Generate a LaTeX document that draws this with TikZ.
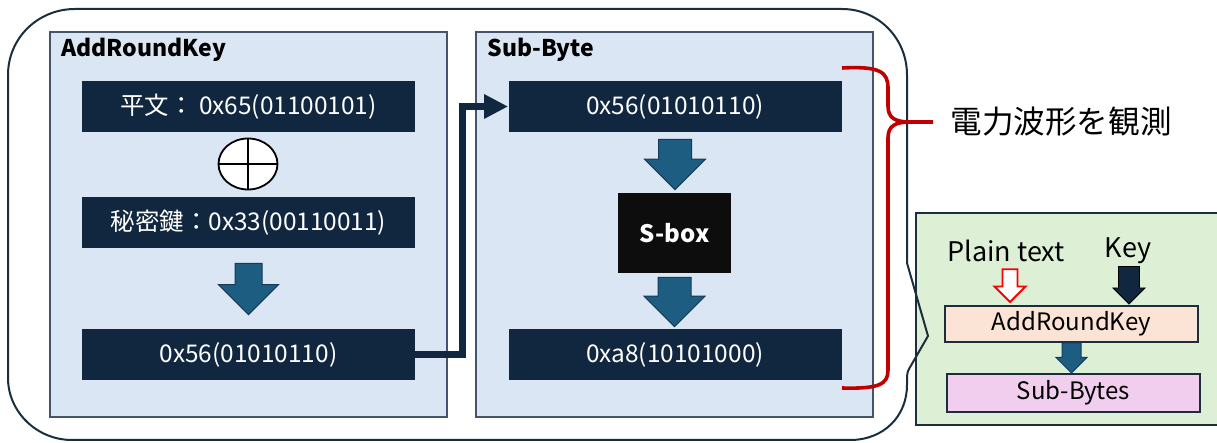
\documentclass[tikz,border=0pt]{standalone}
\usepackage{fontspec}
\setmainfont{Noto Sans CJK JP}
\usepackage{tikz}
\usetikzlibrary{arrows.meta, positioning, calc, shapes.geometric}

\definecolor{panelblue}{HTML}{DAE6F3}
\definecolor{panelline}{HTML}{44546A}
\definecolor{navybox}{HTML}{10273F}
\definecolor{arrowblue}{HTML}{1D5D82}
\definecolor{arrowline}{HTML}{173A55}
\definecolor{rimline}{HTML}{1A2E3E}
\definecolor{bracered}{HTML}{C00000}
\definecolor{notegreen}{HTML}{DDF0D5}
\definecolor{notepeach}{HTML}{FBE4D6}
\definecolor{notepink}{HTML}{F2CEEE}

% fat block arrow pointing down: style, top point, tip point, half shaft, half head
\newcommand{\blockdown}[5]{%
  \filldraw[#1] let \p1=#2, \p2=#3 in
    (\x1-#4,\y1) -- (\x1+#4,\y1) -- (\x1+#4,\y2+#5) -- (\x1+#5,\y2+#5)
    -- (\x1,\y2) -- (\x1-#5,\y2+#5) -- (\x1-#4,\y2+#5) -- cycle;}

\tikzset{
  panel/.style={draw=panelline, fill=panelblue, line width=0.8pt,
                minimum width=198.5pt, minimum height=192.5pt, inner sep=0pt},
  paneltitle/.style={font=\bfseries\fontsize{11.5}{13}\selectfont, inner sep=0pt, anchor=base west},
  valbox/.style={fill=navybox, text=white, minimum width=166.5pt, minimum height=25.5pt,
                 inner sep=0pt, font=\fontsize{12.2}{14}\selectfont},
  sboxnode/.style={fill=black!95, text=white, minimum width=56.5pt, minimum height=40pt,
                   inner sep=0pt, font=\bfseries\fontsize{12}{14}\selectfont},
  xornode/.style={ellipse, draw=black, fill=white, line width=0.9pt,
                  minimum width=29.5pt, minimum height=25.5pt, inner sep=0pt},
  fatarrow/.style={fill=arrowblue, draw=arrowline, line width=0.5pt},
  keyarrow/.style={fill=navybox},
  plainarrow/.style={fill=white, draw=red, line width=0.9pt},
  link/.style={draw=navybox, line width=3.5pt, -{Triangle[length=12pt, width=11.5pt]}},
  rim/.style={draw=rimline, line width=1pt},
  brace/.style={draw=bracered, line width=1.8pt, line join=round},
  obslabel/.style={font=\fontsize{15.8}{17}\selectfont, inner sep=0pt},
  notetext/.style={font=\fontsize{13.5}{15}\selectfont, inner sep=0pt},
  notebox/.style={draw=rimline, line width=1pt, minimum width=126.5pt, minimum height=18pt,
                  inner sep=0pt, font=\fontsize{12}{14}\selectfont}
}

\begin{document}
\begin{tikzpicture}[x=0.5pt, y=-0.5pt]
  \useasboundingbox (0,0) rectangle (1217,443);

  % legend box on the right
  \fill[notegreen] (916,213) rectangle (1217,425);
  \draw[rim] (1217,213) -- (916,213) -- (916,425) -- (1217,425);

  % outer frame with the pointer to the legend
  \draw[rim] (8,75) .. controls (8,38) and (38,9) .. (75,9) -- (842,9)
    .. controls (878,9) and (907,38) .. (907,75) -- (907,263) -- (928,336) -- (909,369)
    .. controls (907,372) and (907,376) .. (907,385)
    .. controls (907,416) and (884,440) .. (850,440) -- (72,440)
    .. controls (37,440) and (8,412) .. (8,378) -- cycle;

  % AddRoundKey
  \node[panel] (arkpanel) at (248.5,224.5) {};
  \node[paneltitle] at (61,57) {AddRoundKey};
  \node[valbox] (k1) at (248.5,106.5) {平文： 0x65(01100101)};
  \node[xornode] (xor) at (248,164) {};
  \draw[line width=0.9pt] (xor.north) -- (xor.south) (xor.west) -- (xor.east);
  \node[valbox] (k2) at (248.5,222.5) {秘密鍵：0x33(00110011)};
  \node[valbox] (k3) at (248.5,354.5) {0x56(01010110)};
  \blockdown{fatarrow}{([yshift=-7.5pt]k2.south)}{([yshift=7pt]k3.north)}{6.75pt}{15pt}

  % Sub-Byte
  \node[panel] (sbpanel) at (674.5,224.5) {};
  \node[paneltitle] at (487,57) {Sub-Byte};
  \node[valbox] (b4) at (675,106.5) {0x56(01010110)};
  \node[sboxnode] (sbox) at (674.5,233) {S-box};
  \node[valbox] (b5) at (675,354.5) {0xa8(10101000)};
  \blockdown{fatarrow}{([yshift=-3.5pt]b4.south)}{([yshift=1.5pt]sbox.north)}{8.25pt}{15.25pt}
  \blockdown{fatarrow}{([yshift=-2pt]sbox.south)}{([yshift=1pt]b5.north)}{8.25pt}{15.25pt}

  \draw[link] (k3.east) -- ++(47,0) |- (b4.west);

  % measured range
  \coordinate (tip) at (933,122);
  \draw[brace] (842,68) .. controls (880,66) and (888,72) .. (888,88) -- (888,106)
    .. controls (888,118) and (895,122) .. (910,122) -- (tip);
  \draw[brace] (910,122) .. controls (895,122) and (888,126) .. (888,138) -- (888,370)
    .. controls (888,384) and (880,389) .. (842,388);
  \node[obslabel, right=8.5pt of tip] (obs) {電力波形を観測};

  % legend
  \node[notetext] (plain) at (1006,251) {Plain text};
  \node[notetext] (keytxt) at (1128,251) {Key};
  \node[notebox, fill=notepeach] (ark) at (1071.5,324) {AddRoundKey};
  \node[notebox, fill=notepink, minimum height=19pt] (sb) at (1073.5,393) {Sub-Bytes};
  \blockdown{plainarrow}{($(plain.south)+(2pt,-3.5pt)$)}{($(plain.south |- ark.north)+(2pt,1.5pt)$)}{3.75pt}{7.75pt}
  \blockdown{keyarrow}{($(keytxt.south)+(0.5pt,-1pt)$)}{($(keytxt.south |- ark.north)+(0.5pt,0.5pt)$)}{5.25pt}{8pt}
  \blockdown{fatarrow}{(ark.south)}{(ark.south |- sb.north)}{4.75pt}{7.75pt}
\end{tikzpicture}
\end{document}
